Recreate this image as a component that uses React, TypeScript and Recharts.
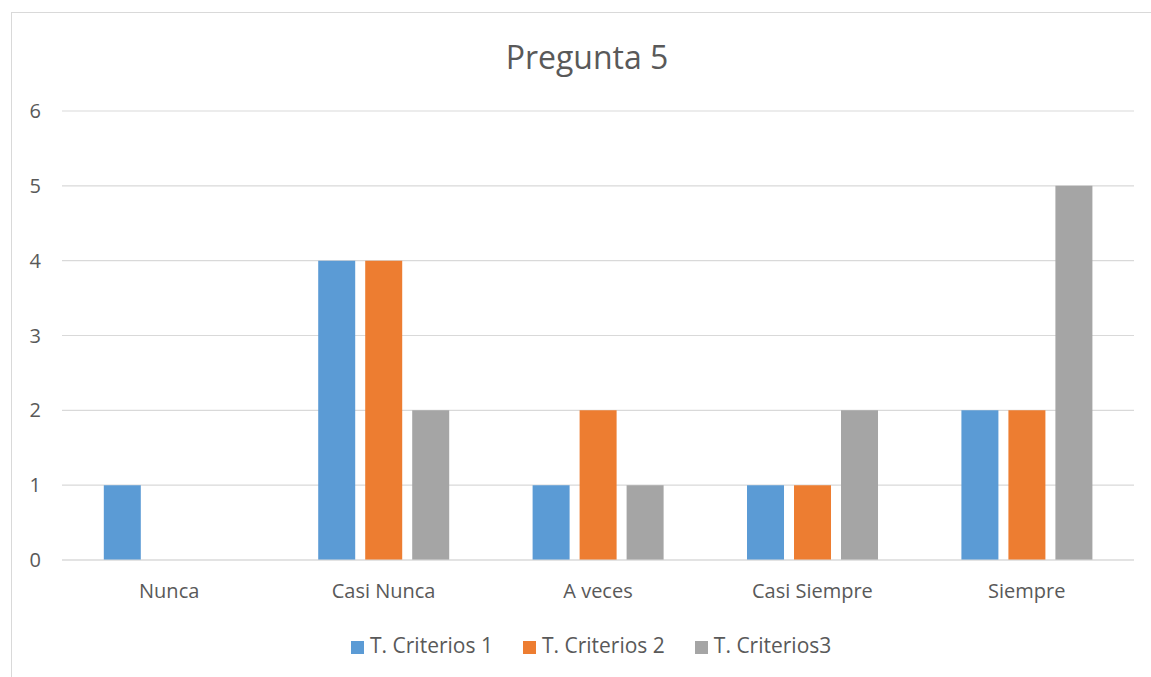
import React from "react";
import { BarChart, Bar, XAxis, YAxis, CartesianGrid, Legend } from "recharts";

const categories = ["Nunca", "Casi Nunca", "A veces", "Casi Siempre", "Siempre"];
const criterios1 = [1, 4, 1, 1, 2];
const criterios2 = [0, 4, 2, 1, 2];
const criterios3 = [0, 2, 1, 2, 5];
const yTicks = [0, 1, 2, 3, 4, 5, 6];

const data = categories.map((name, i) => ({
  name,
  c1: criterios1[i],
  c2: criterios2[i],
  c3: criterios3[i],
}));

const font = "'Open Sans', 'Noto Sans', sans-serif";
const textColor = "#595959";

export default function App() {
  return (
    <div
      style={{
        position: "absolute",
        left: 0,
        top: 0,
        width: 1151,
        height: 677,
        overflow: "hidden",
        background: "#fff",
        fontFamily: font,
      }}
    >
      <div
        style={{
          position: "absolute",
          left: 11,
          top: 12,
          width: 1200,
          height: 720,
          border: "1.5px solid #d9d9d9",
          boxSizing: "border-box",
        }}
      />
      <div
        style={{
          position: "absolute",
          left: 0,
          top: 35,
          width: 1174,
          textAlign: "center",
          fontSize: 32,
          color: textColor,
        }}
      >
        Pregunta 5
      </div>
      <div style={{ position: "absolute", left: 0, top: 0 }}>
        <BarChart
          width={1151}
          height={677}
          data={data}
          margin={{ top: 111, right: 17, bottom: 59, left: 0 }}
          barCategoryGap="19.5%"
          barGap={10}
        >
          <CartesianGrid vertical={false} stroke="#d9d9d9" strokeWidth={1.2} />
          <XAxis
            dataKey="name"
            tickLine={false}
            axisLine={{ stroke: "#d9d9d9", strokeWidth: 1.2 }}
            tick={{ fill: textColor, fontSize: 20, fontFamily: font }}
            tickMargin={18}
          />
          <YAxis
            width={62}
            domain={[0, 6]}
            ticks={yTicks}
            tickLine={false}
            axisLine={false}
            tick={{ fill: textColor, fontSize: 20, fontFamily: font }}
            tickMargin={15}
          />
          <Legend
            verticalAlign="bottom"
            align="left"
            iconType="square"
            iconSize={13}
            wrapperStyle={{ top: 631, left: 351, width: 600, fontSize: 21, fontFamily: font }}
            formatter={(value) => <span style={{ color: textColor, marginLeft: 2, marginRight: 20 }}>{value}</span>}
          />
          <Bar dataKey="c1" name="T. Criterios 1" fill="#5B9BD5" isAnimationActive={false} />
          <Bar dataKey="c2" name="T. Criterios 2" fill="#ED7D31" isAnimationActive={false} />
          <Bar dataKey="c3" name="T. Criterios3" fill="#A5A5A5" isAnimationActive={false} />
        </BarChart>
      </div>
    </div>
  );
}
